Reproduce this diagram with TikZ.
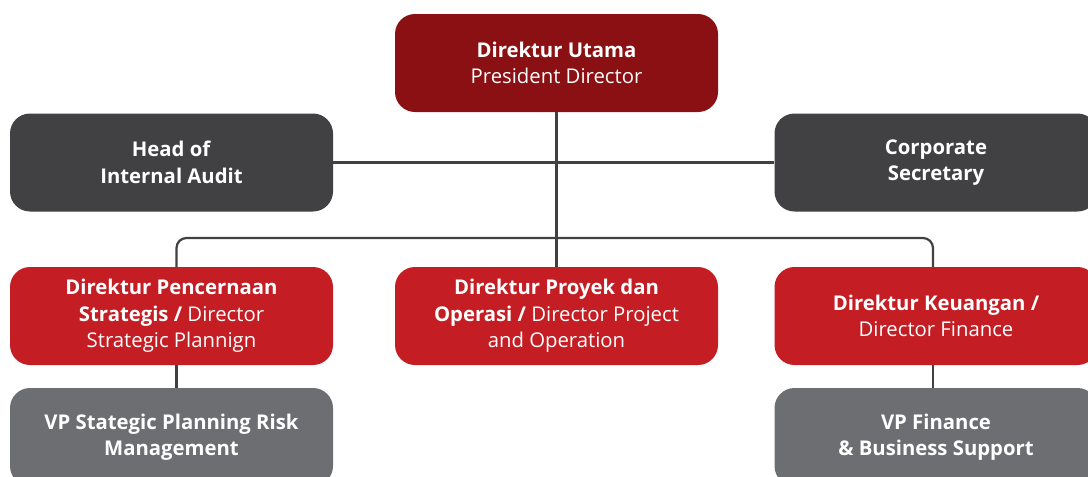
\documentclass[tikz,border=0pt]{standalone}
\usepackage{fontspec}
\setmainfont{Open Sans}
\definecolor{darkred}{HTML}{8B1014}
\definecolor{brightred}{HTML}{C41D23}
\definecolor{darkgray}{HTML}{414042}
\definecolor{midgray}{HTML}{6D6E71}
\definecolor{linegray}{HTML}{414042}
\tikzset{
  box/.style={rounded corners=20pt, minimum width=323pt, minimum height=98pt,
    inner sep=0pt, align=center, text=white, font=\fontsize{20.3}{26.5}\selectfont},
  conn/.style={draw=linegray, line width=2.2pt}
}
\begin{document}
\begin{tikzpicture}[x=1pt,y=-1pt]
\useasboundingbox (0,0) rectangle (1088,477);
\begin{scope}
\clip (0,0) rectangle (1088,477);
\node[box, fill=darkred] (pres) at (556.5,63) {\textbf{Direktur Utama}\\President Director};
\node[box, fill=darkgray] (audit) at (171.5,162.5) {\textbf{Head of}\\\textbf{Internal Audit}};
\node[box, fill=darkgray] (corp) at (936,162.5) {\textbf{Corporate}\\\textbf{Secretary}};
\node[box, fill=brightred] (redL) at (171.5,316) {\textbf{Direktur Pencernaan}\\\textbf{Strategis /} Director\\Strategic Plannign};
\node[box, fill=brightred] (redC) at (556.5,316) {\textbf{Direktur Proyek dan}\\\textbf{Operasi /} Director Project\\and Operation};
\node[box, fill=brightred] (redR) at (936,316) {\textbf{Direktur Keuangan /}\\Director Finance};
\node[box, fill=midgray] (vpL) at (171.5,437) {\textbf{VP Stategic Planning Risk}\\\textbf{Management}};
\node[box, fill=midgray] (vpR) at (936,437) {\textbf{VP Finance}\\\textbf{\& Business Support}};
\coordinate (bus) at (556.5,238);
\draw[conn] (pres.south) -- (redC.north);
\draw[conn] (audit.east) -- (corp.west);
\draw[conn, rounded corners=10pt] ([xshift=5pt]redL.north) |- (bus) -| ([xshift=-3pt]redR.north);
\draw[conn] ([xshift=5pt]redL.south) -- ([xshift=5pt]vpL.north);
\draw[conn] ([xshift=-3pt]redR.south) -- ([xshift=-3pt]vpR.north);
\end{scope}
\end{tikzpicture}
\end{document}
